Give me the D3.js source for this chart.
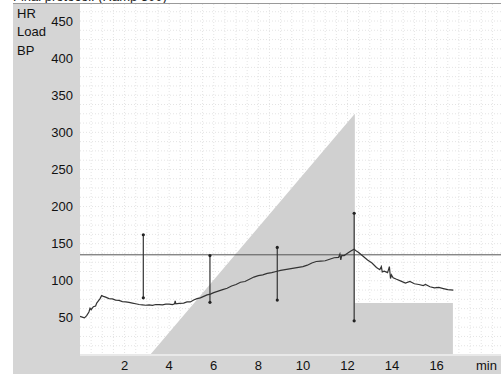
<!DOCTYPE html>
<html lang="en">
<head>
<meta charset="UTF-8">
<title>Final protocol</title>
<style>
  body, html { margin: 0; padding: 0; background: #fff; }
  svg { display: block; font-family: "Liberation Sans", Arial, sans-serif; }
</style>
</head>
<body>
<div id="chart"></div>
<script src="https://d3js.org/d3.v7.min.js"></script>
<script>
// heart rate trace (min, bpm)
const hrTime = [0.00,0.10,0.20,0.30,0.40,0.45,0.50,0.60,0.70,0.75,0.80,0.90,0.97,1.05,1.15,1.30,1.45,1.60,1.75,1.90,
  2.05,2.20,2.35,2.50,2.65,2.80,2.95,3.10,3.25,3.40,3.55,3.70,3.85,4.00,4.15,4.24,4.27,4.30,4.45,4.65,4.80,4.95,
  5.10,5.25,5.40,5.55,5.70,5.85,6.00,6.20,6.40,6.60,6.80,7.00,7.20,7.40,7.60,7.80,8.00,8.20,8.40,8.60,8.80,
  9.00,9.20,9.40,9.60,9.80,10.00,10.20,10.40,10.60,10.80,11.00,11.20,11.40,11.60,11.66,11.70,11.74,11.85,
  12.00,12.15,12.30,12.40,12.50,12.70,12.90,13.10,13.30,13.45,13.52,13.56,13.65,13.80,13.88,13.93,13.97,
  14.05,14.20,14.40,14.60,14.80,15.00,15.20,15.40,15.50,15.70,15.90,16.10,16.30,16.50,16.75];
const hrValue = [52,51,50,53,58,63,61,65,66,70,72,76,80,79,78,76,75.5,74,73.5,72,
  71.5,71,70,69,68,67.5,67,67.5,67,68,68,67.5,68.5,68.5,68,69,73,69,69.5,70,71.5,71.5,
  74,76,77,79,81,82,84,86,88,90,93,95,98,99,102,105,107,108,110,111,112.5,
  114,115,116,117,118,119,121,124,126,126.5,127,129,131,131.5,136,128,134,134,
  137,140,142.5,140,138,133,128,124,118,115,119,112,113,111,119,103,108,
  104,102,99.5,97,99,96,95,93.5,95,92,90.5,91,89.5,88,87.5];

// load profile (min, load in chart units)
const loadTime = [0, 3.14, 12.33, 12.33, 16.73, 16.73];
const loadValue = [0, 0, 325, 70, 70, 0];

// blood pressure readings
const bpTime = [2.84, 5.83, 8.85, 12.3];
const bpSys = [162, 134, 145, 191];
const bpDia = [77, 71, 74, 46];

const hrLimit = 135;
const xTicks = [2, 4, 6, 8, 10, 12, 14, 16];
const yTicks = [50, 100, 150, 200, 250, 300, 350, 400, 450];
const rowLabels = ["HR", "Load", "BP"];

const W = 501, H = 374;
const plot = { left: 80, right: 501, top: 4, bottom: 354 };

const x = d3.scaleLinear().domain([0, 1]).range([80, 80 + 22.29]);
x.domain([0, (plot.right - 80) / 22.29]).range([80, plot.right]);
const y = d3.scaleLinear().domain([0, 450]).range([355, 21]);

const svg = d3.select("#chart").append("svg")
  .attr("width", W).attr("height", H);

svg.append("defs").append("clipPath").attr("id", "clip")
  .append("rect")
  .attr("x", plot.left).attr("y", plot.top)
  .attr("width", plot.right - plot.left).attr("height", plot.bottom - plot.top);

// gray panels
svg.append("rect").attr("x", 13).attr("y", plot.top).attr("width", plot.left - 13).attr("height", H - plot.top)
  .attr("fill", "#d5d5d5");
svg.append("rect").attr("x", plot.left).attr("y", 356).attr("width", W - plot.left).attr("height", H - 356)
  .attr("fill", "#d5d5d5");
svg.append("rect").attr("x", plot.left).attr("y", plot.bottom).attr("width", W - plot.left).attr("height", 2)
  .attr("fill", "#e9e9e9");

// title (cut off at the top)
svg.append("text").attr("x", 13).attr("y", 0.5)
  .attr("font-size", 13).attr("fill", "#222")
  .text("Final protocol: (Ramp 300)");
svg.append("line").attr("x1", 13).attr("x2", W).attr("y1", 3.5).attr("y2", 3.5)
  .attr("stroke", "#9a9a9a").attr("stroke-width", 1);

const g = svg.append("g").attr("clip-path", "url(#clip)");

// faint dotted grid
const gx = d3.range(0.5, 19, 0.5);
const gy = d3.range(12.5, 480, 12.5);
g.selectAll(".gx").data(gx).join("line")
  .attr("x1", d => x(d)).attr("x2", d => x(d))
  .attr("y1", plot.top).attr("y2", plot.bottom)
  .attr("stroke", "#e4e4e4").attr("stroke-dasharray", "1,2");
g.selectAll(".gy").data(gy).join("line")
  .attr("x1", plot.left).attr("x2", plot.right)
  .attr("y1", d => y(d)).attr("y2", d => y(d))
  .attr("stroke", "#e4e4e4").attr("stroke-dasharray", "1,2");

// load area
const loadPts = loadTime.map((t, i) => [t, loadValue[i]]);
g.append("path")
  .datum(loadPts)
  .attr("d", d3.area().x(d => x(d[0])).y0(y(0)).y1(d => y(d[1])))
  .attr("fill", "#d0d0d0");

// HR limit line
g.append("line")
  .attr("x1", plot.left).attr("x2", plot.right)
  .attr("y1", y(hrLimit)).attr("y2", y(hrLimit))
  .attr("stroke", "#555").attr("stroke-width", 1);

// BP bars
const bp = bpTime.map((t, i) => ({ t, s: bpSys[i], d: bpDia[i] }));
g.selectAll(".bp").data(bp).join("line")
  .attr("x1", d => x(d.t)).attr("x2", d => x(d.t))
  .attr("y1", d => y(d.s)).attr("y2", d => y(d.d))
  .attr("stroke", "#333").attr("stroke-width", 1.2);
g.selectAll(".bpS").data(bp).join("circle")
  .attr("cx", d => x(d.t)).attr("cy", d => y(d.s)).attr("r", 1.6).attr("fill", "#222");
g.selectAll(".bpD").data(bp).join("circle")
  .attr("cx", d => x(d.t)).attr("cy", d => y(d.d)).attr("r", 1.6).attr("fill", "#222");

// HR line
const hrPts = hrTime.map((t, i) => [t, hrValue[i]]);
g.append("path")
  .datum(hrPts)
  .attr("d", d3.line().x(d => x(d[0])).y(d => y(d[1])))
  .attr("fill", "none").attr("stroke", "#333").attr("stroke-width", 1.2);

// y ticks
svg.selectAll(".yt").data(yTicks).join("text")
  .attr("x", 73).attr("y", d => y(d)).attr("dy", "0.35em")
  .attr("text-anchor", "end").attr("font-size", 13).attr("fill", "#111")
  .text(d => d);

// row labels
svg.selectAll(".rl").data(rowLabels).join("text")
  .attr("x", 17).attr("y", (d, i) => 17.5 + i * 18.5)
  .attr("font-size", 13).attr("fill", "#111")
  .text(d => d);

// x ticks
svg.selectAll(".xt").data(xTicks).join("text")
  .attr("x", d => x(d)).attr("y", 370)
  .attr("text-anchor", "middle").attr("font-size", 13).attr("fill", "#111")
  .text(d => d);
svg.append("text").attr("x", 476).attr("y", 370)
  .attr("font-size", 13).attr("fill", "#111").text("min");
</script>
</body>
</html>
